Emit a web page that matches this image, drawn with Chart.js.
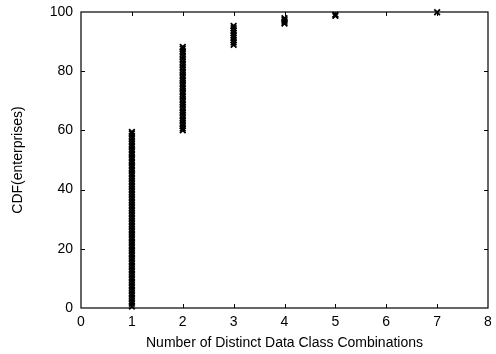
<!DOCTYPE html>
<html>
<head>
<meta charset="utf-8">
<script src="https://cdn.jsdelivr.net/npm/chart.js@4"></script>
<style>
  html, body { margin: 0; padding: 0; background: #fff; }
  #wrap { width: 496px; height: 354px; }
</style>
</head>
<body>
<div id="wrap"><canvas id="chart"></canvas></div>
<script>
// columnas del CDF (valor de x -> valores de CDF en %)
const xTicks = [0, 1, 2, 3, 4, 5, 6, 7, 8];
const yTicks = [0, 20, 40, 60, 80, 100];

const cdfOne = [0.5, 1.4, 2.3, 3.2, 4.1, 5.0, 5.9, 6.8, 7.7, 8.6, 9.5, 10.4, 11.3, 12.2,
  13.1, 14.0, 14.9, 15.8, 16.7, 17.6, 18.5, 19.4, 20.3, 21.2, 22.1, 23.0, 23.9, 24.8,
  25.7, 26.6, 27.5, 28.4, 29.3, 30.2, 31.1, 32.0, 32.9, 33.8, 34.7, 35.6, 36.5, 37.4,
  38.3, 39.2, 40.1, 41.0, 41.9, 42.8, 43.7, 44.6, 45.5, 46.4, 47.3, 48.2, 49.1, 50.0,
  50.9, 51.8, 52.7, 53.6, 54.5, 55.4, 56.3, 57.2, 58.1, 59.0, 59.5];
const cdfTwo = [60.0, 60.6, 61.5, 62.4, 63.3, 64.2, 65.1, 66.0, 66.9, 67.8, 68.7, 69.6,
  70.5, 71.4, 72.3, 73.2, 74.1, 75.0, 75.9, 76.8, 77.7, 78.6, 79.5, 80.4, 81.3, 82.2,
  83.1, 84.0, 84.9, 85.8, 86.7, 87.6, 88.2];
const cdfThree = [88.9, 89.7, 90.5, 91.3, 92.1, 92.9, 93.7, 94.5, 95.3];
const cdfFour = [96.1, 96.7, 97.3, 97.9];
const cdfFive = [98.7, 99.1];
const cdfSeven = [99.9];

const columns = [
    { x: 1, vals: cdfOne },
    { x: 2, vals: cdfTwo },
    { x: 3, vals: cdfThree },
    { x: 4, vals: cdfFour },
    { x: 5, vals: cdfFive },
    { x: 7, vals: cdfSeven }
];

const points = [];
columns.forEach(c => c.vals.forEach(v => points.push({ x: c.x, y: v })));

// plugin marco + marcas hacia dentro (estilo gnuplot)
const frameTicks = {
    id: "frameTicks",
    afterDatasetsDraw(chart) {
        const { ctx, chartArea: { left, right, top, bottom }, scales: { x, y } } = chart;
        const len = 4;

        ctx.save();
        ctx.strokeStyle = "#000";
        ctx.lineWidth = 1;
        ctx.beginPath();

        xTicks.slice(1, -1).forEach(v => {
            const px = Math.round(x.getPixelForValue(v)) + 0.5;
            ctx.moveTo(px, bottom);
            ctx.lineTo(px, bottom - len);
            ctx.moveTo(px, top);
            ctx.lineTo(px, top + len);
        });

        yTicks.slice(1, -1).forEach(v => {
            const py = Math.round(y.getPixelForValue(v)) + 0.5;
            ctx.moveTo(left, py);
            ctx.lineTo(left + len, py);
            ctx.moveTo(right, py);
            ctx.lineTo(right - len, py);
        });
        ctx.stroke();

        ctx.lineWidth = 1.2;
        ctx.strokeRect(left, top, right - left, bottom - top);
        ctx.restore();
    }
};

const font = { family: "'Liberation Sans', Arial, sans-serif", size: 14 };

chart = new Chart(document.getElementById("chart"), {
    type: "scatter",
    data: {
        datasets: [{
            label: "CDF",
            data: points,
            pointStyle: "crossRot",
            pointRadius: 4,
            borderColor: "#000",
            backgroundColor: "#000",
            borderWidth: 1.8,
            clip: false
        }]
    },
    options: {
        responsive: true,
        maintainAspectRatio: false,
        animation: false,
        layout: { padding: { left: 0, right: 8, top: 12, bottom: 0 } },
        plugins: {
            legend: { display: false },
            tooltip: { enabled: false }
        },
        scales: {
            x: {
                type: "linear",
                min: 0,
                max: 8,
                afterBuildTicks: s => { s.ticks = xTicks.map(v => ({ value: v })); },
                afterFit: s => { s.height = 46; s.paddingLeft = 0; s.paddingRight = 0; },
                grid: { display: false, drawTicks: false },
                border: { display: false },
                ticks: { color: "#000", font: font, padding: 6, maxRotation: 0 },
                title: {
                    display: true,
                    text: "Number of Distinct Data Class Combinations",
                    color: "#000",
                    font: font,
                    padding: { top: 0, bottom: 2 }
                }
            },
            y: {
                type: "linear",
                min: 0,
                max: 100,
                afterBuildTicks: s => { s.ticks = yTicks.map(v => ({ value: v })); },
                afterFit: s => { s.width = 81; s.paddingTop = 0; s.paddingBottom = 0; },
                grid: { display: false, drawTicks: false },
                border: { display: false },
                ticks: { color: "#000", font: font, padding: 8 },
                title: {
                    display: true,
                    text: "CDF(enterprises)",
                    color: "#000",
                    font: font,
                    padding: { top: 10, bottom: 0 }
                }
            }
        }
    },
    plugins: [frameTicks]
});
</script>
</body>
</html>
